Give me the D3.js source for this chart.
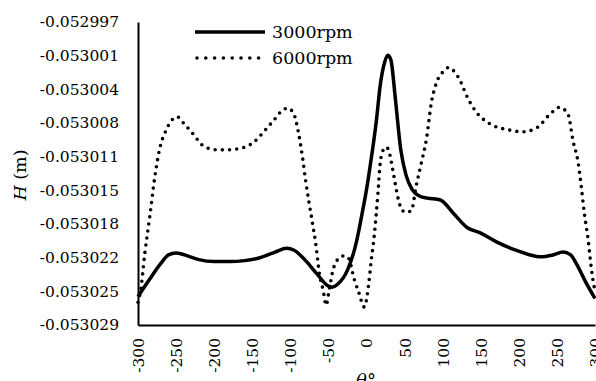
<!DOCTYPE html>
<html>
<head>
<meta charset="utf-8">
<script src="https://cdn.jsdelivr.net/npm/d3@7"></script>
<style>
  body { margin: 0; background: #fff; }
  text { font-family: "DejaVu Serif", serif; fill: #000; }
</style>
</head>
<body>
<div id="chart"></div>
<script>
var width = 596,
    height = 381;

// theta (deg) and H (m)
var theta3000 = [-300, -285, -270, -260, -250, -235, -220, -200, -180, -160, -140, -120, -105, -95, -80, -65, -50, -45, -38, -25, -15, -10, -5, 0, 5, 13, 18, 24, 28, 32, 38, 45, 52, 60, 70, 80, 97, 114, 132, 150, 170, 196, 215, 227, 245, 258, 268, 276, 288, 300];
var h3000 = [-0.0530260, -0.0530242, -0.0530225, -0.0530216, -0.0530214, -0.0530217, -0.0530221, -0.0530223, -0.0530223, -0.0530222, -0.0530219, -0.0530213, -0.0530209, -0.0530211, -0.0530222, -0.0530236, -0.0530249, -0.0530250, -0.0530247, -0.0530232, -0.0530208, -0.0530190, -0.0530169, -0.0530147, -0.0530121, -0.0530074, -0.0530037, -0.0530012, -0.0530005, -0.0530010, -0.0530052, -0.0530105, -0.0530132, -0.0530147, -0.0530154, -0.0530156, -0.0530158, -0.0530172, -0.0530187, -0.0530193, -0.0530202, -0.0530211, -0.0530216, -0.0530218, -0.0530216, -0.0530213, -0.0530216, -0.0530226, -0.0530245, -0.0530262];

var theta6000 = [-300, -297, -291, -284, -278, -271, -264, -256, -249, -240, -229, -212, -195, -185, -170, -159, -148, -135, -122, -110, -103, -95, -90, -84, -80, -76, -71, -66, -62, -57, -53, -49, -44, -38, -30, -24, -16, -10, -3, 3, 6, 10, 15, 18, 22, 26, 30, 34, 38, 42, 47, 52, 59, 65, 72, 79, 85, 92, 100, 108, 115, 121, 134, 144, 161, 187, 205, 225, 240, 249, 253, 259, 265, 271, 278, 282, 286, 291, 295, 299, 300];
var h6000 = [-0.0530266, -0.0530256, -0.0530214, -0.0530172, -0.0530134, -0.0530102, -0.0530086, -0.0530074, -0.0530070, -0.0530077, -0.0530087, -0.0530102, -0.0530105, -0.0530105, -0.0530104, -0.0530102, -0.0530097, -0.0530086, -0.0530074, -0.0530063, -0.0530061, -0.0530068, -0.0530084, -0.0530113, -0.0530137, -0.0530158, -0.0530182, -0.0530208, -0.0530235, -0.0530253, -0.0530269, -0.0530253, -0.0530232, -0.0530221, -0.0530217, -0.0530219, -0.0530242, -0.0530256, -0.0530271, -0.0530246, -0.0530223, -0.0530197, -0.0530151, -0.0530119, -0.0530105, -0.0530102, -0.0530108, -0.0530124, -0.0530142, -0.0530158, -0.0530169, -0.0530171, -0.0530169, -0.0530144, -0.0530119, -0.0530092, -0.0530056, -0.0530034, -0.0530023, -0.0530018, -0.0530022, -0.0530029, -0.0530052, -0.0530065, -0.0530077, -0.0530084, -0.0530086, -0.0530081, -0.0530068, -0.0530062, -0.0530060, -0.0530062, -0.0530068, -0.0530095, -0.0530119, -0.0530144, -0.0530172, -0.0530200, -0.0530229, -0.0530250, -0.0530253];

var seriesNames = ["3000rpm", "6000rpm"];
var xTicks = [-300, -250, -200, -150, -100, -50, 0, 50, 100, 150, 200, 250, 300];
var yTickLabels = ["-0.053029", "-0.053025", "-0.053022", "-0.053018", "-0.053015", "-0.053011", "-0.053008", "-0.053004", "-0.053001", "-0.052997"];
var yMin = -0.053029, yMax = -0.052997;

var margin = {top: 22, left: 138, right: 1, bottom: 56};

var x = d3.scaleLinear().domain([-300, 300]).range([margin.left, width - margin.right]);
var y = d3.scaleLinear().domain([yMin, yMax]).range([height - margin.bottom, margin.top]);

var yTicks = yTickLabels.map(function(d, i) { return yMin + i * (yMax - yMin) / (yTickLabels.length - 1); });

var svg = d3.select('#chart').append('svg')
  .attr('width', width)
  .attr('height', height);

// y axis
var yAxis = svg.append('g')
  .attr('transform', 'translate(' + margin.left + ',0)')
  .call(d3.axisLeft(y).tickValues(yTicks).tickSize(0).tickPadding(19)
    .tickFormat(function(d, i) { return yTickLabels[i]; }));
yAxis.select('.domain').attr('stroke', '#000').attr('stroke-width', 2);
yAxis.selectAll('text').style('font-size', '15.5px').style('font-family', '"DejaVu Serif", serif');

// x axis (plain hyphen for negatives, like the original)
var xAxis = svg.append('g')
  .attr('transform', 'translate(0,' + (height - margin.bottom) + ')')
  .call(d3.axisBottom(x).tickValues(xTicks).tickSize(0).tickFormat(function(d) { return String(d); }));
xAxis.select('.domain').attr('stroke', '#000').attr('stroke-width', 2);
xAxis.selectAll('text')
  .style('font-size', '15.5px')
  .style('font-family', '"DejaVu Serif", serif')
  .attr('text-anchor', 'end')
  .attr('transform', 'rotate(-90)')
  .attr('x', -13)
  .attr('y', 0)
  .attr('dy', '0.35em');

var line = d3.line()
  .x(function(d) { return x(d[0]); })
  .y(function(d) { return y(d[1]); })
  .curve(d3.curveMonotoneX);

var d3000 = theta3000.map(function(t, i) { return [t, h3000[i]]; });
var d6000 = theta6000.map(function(t, i) { return [t, h6000[i]]; });

svg.append('path')
  .datum(d6000)
  .attr('d', line)
  .attr('fill', 'none')
  .attr('stroke', '#000')
  .attr('stroke-width', 3.6)
  .attr('stroke-linecap', 'round')
  .attr('stroke-dasharray', '0 7.2');

svg.append('path')
  .datum(d3000)
  .attr('d', line)
  .attr('fill', 'none')
  .attr('stroke', '#000')
  .attr('stroke-width', 3.5);

// legend
var legend = svg.append('g');
legend.append('line')
  .attr('x1', 195).attr('x2', 265).attr('y1', 32).attr('y2', 32)
  .attr('stroke', '#000').attr('stroke-width', 3.5);
legend.append('line')
  .attr('x1', 197).attr('x2', 259).attr('y1', 58).attr('y2', 58)
  .attr('stroke', '#000').attr('stroke-width', 3.6)
  .attr('stroke-linecap', 'round').attr('stroke-dasharray', '0 8.8');
legend.selectAll('text.leg')
  .data(seriesNames).enter()
  .append('text')
  .attr('class', 'leg')
  .attr('x', 272)
  .attr('y', function(d, i) { return 32 + i * 26; })
  .attr('dy', '0.35em')
  .style('font-size', '17.5px')
  .text(function(d) { return d; });

// axis titles
svg.append('text')
  .attr('x', 366)
  .attr('y', 387)
  .attr('text-anchor', 'middle')
  .style('font-size', '18px')
  .html('<tspan font-style="italic">θ</tspan>°');

svg.append('text')
  .attr('transform', 'translate(26,' + 175 + ') rotate(-90)')
  .attr('text-anchor', 'middle')
  .style('font-size', '17.5px')
  .html('<tspan font-style="italic">H</tspan> (m)');
</script>
</body>
</html>
